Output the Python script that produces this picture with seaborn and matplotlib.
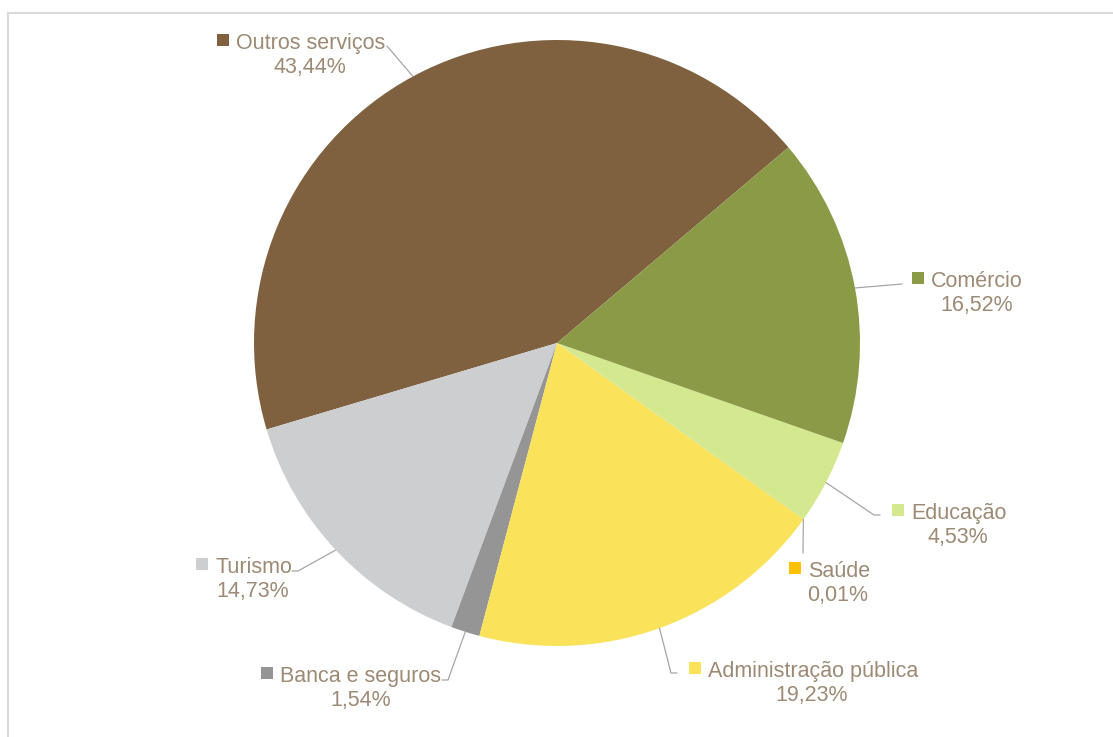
import numpy as np
import matplotlib
matplotlib.use("Agg")
import matplotlib.pyplot as plt
import seaborn as sns

# dados (sentido anti-horário a partir da fronteira Outros/Comércio)
setores = ['Outros serviços', 'Turismo', 'Banca e seguros', 'Administração pública',
           'Saúde', 'Educação', 'Comércio']
valores = [43.44, 14.73, 1.54, 19.23, 0.01, 4.53, 16.52]
cores = ['#7F6140', '#CDCED0', '#959595', '#FAE25A', '#FFC000', '#D4E98F', '#8A9A47']

# layout das etiquetas em pixels (origem no topo):
# (x esquerdo do nome, linha de base do nome, x central da percentagem, cotovelo da linha)
layout = {
    'Outros serviços': (236, 49, 310, (387, 46)),
    'Comércio': (931, 287, 977, (902, 284)),
    'Educação': (911, 519, 958, (880, 515)),
    'Saúde': (808, 577, 838, (803, 553)),
    'Administração pública': (708, 677, 812, (677, 673)),
    'Banca e seguros': (280, 682, 361, (442, 680)),
    'Turismo': (215, 573, 253, (292, 571)),
}

sns.set_theme(style="white")
plt.rcParams['font.family'] = ['Liberation Sans', 'DejaVu Sans']

W, H = 1113, 737
fig = plt.figure(figsize=(W / 100, H / 100), dpi=100)
ax = fig.add_axes([0, 0, 1, 1])

cx, cy, r = 557, H - 343, 303
wedges, _ = ax.pie(valores, colors=cores, startangle=40.2, counterclock=True,
                   center=(cx, cy), radius=r, frame=True,
                   wedgeprops=dict(linewidth=0))
ax.set_xlim(0, W)
ax.set_ylim(0, H)
ax.axis('off')

cor_txt = '#9C8A74'
cor_linha = '#A6A6A6'
fs = 15.5
for w, nome, v, c in zip(wedges, setores, valores, cores):
    nx, base, px, (ex, ey) = layout[nome]
    ang = np.deg2rad((w.theta1 + w.theta2) / 2)
    sx, sy = cx + r * np.cos(ang), cy + r * np.sin(ang)
    ey = H - ey
    # linha de chamada
    if nome in ('Outros serviços', 'Comércio', 'Saúde'):
        ax.plot([sx, ex], [sy, ey], color=cor_linha, lw=0.9, zorder=1)
    else:
        dx = -6 if ex > sx else 6
        ax.plot([sx, ex + dx, ex], [sy, ey, ey], color=cor_linha, lw=0.9, zorder=1)
    # quadrado com a cor do setor
    ax.scatter([nx - 13], [H - base + 9.5], marker='s', s=66, color=c, linewidths=0, zorder=3)
    ax.text(nx, H - base, nome, ha='left', va='baseline', fontsize=fs, color=cor_txt)
    ax.text(px, H - base - 24, f'{v:.2f}%'.replace('.', ','), ha='center', va='baseline',
            fontsize=fs, color=cor_txt)

# moldura cinzenta
fig.add_artist(plt.Line2D([7.5 / W, 7.5 / W], [0, 1 - 12.5 / H], color='#D9D9D9', lw=1.5))
fig.add_artist(plt.Line2D([7.5 / W, 1], [1 - 12.5 / H, 1 - 12.5 / H], color='#D9D9D9', lw=1.5))

fig.savefig('out.png', dpi=100)
